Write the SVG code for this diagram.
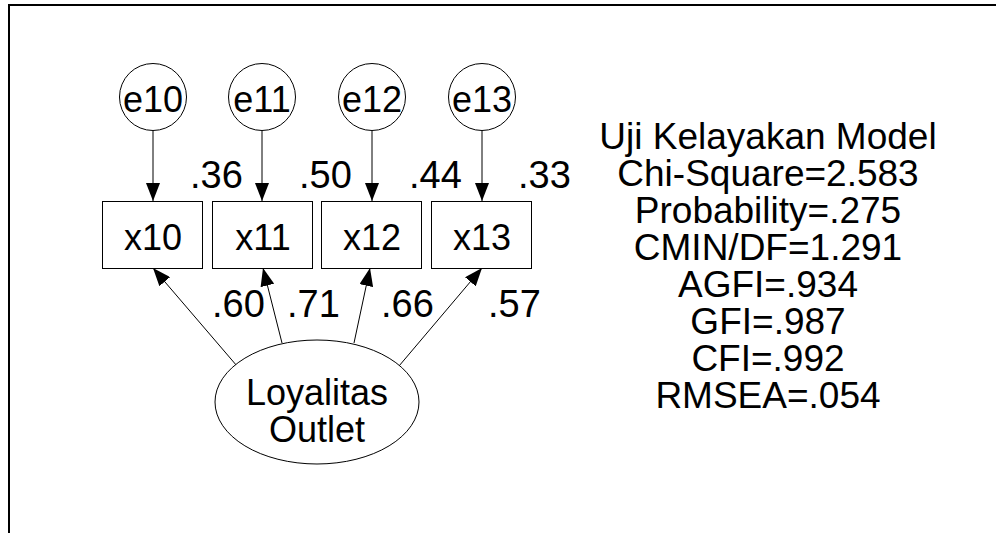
<svg xmlns="http://www.w3.org/2000/svg" width="996" height="533" viewBox="0 0 996 533">
<style>
.n{fill:#fff;stroke:#000;stroke-width:1}
.t{font-family:"Liberation Sans",Arial,sans-serif;font-size:36px;fill:#000;text-anchor:middle}
.l{font-family:"Liberation Sans",Arial,sans-serif;font-size:38px;fill:#000}
.r{font-family:"Liberation Sans",Arial,sans-serif;font-size:37px;fill:#000;text-anchor:middle}
.c{stroke:#000;stroke-width:1;fill:none;marker-end:url(#ah)}
</style>
<defs>
<marker id="ah" markerUnits="userSpaceOnUse" markerWidth="18" markerHeight="14" refX="18" refY="7" orient="auto" viewBox="0 0 18 14">
<path d="M0,0 L18,7 L0,14 Z" fill="#000"/>
</marker>
</defs>
<rect width="996" height="533" fill="#fff"/>
<rect x="9" y="5" width="1000" height="540" fill="none" stroke="#000" stroke-width="2"/>
<g id="connectors">
<line class="c" x1="153" y1="131" x2="153" y2="201"/>
<line class="c" x1="262" y1="131" x2="262" y2="201"/>
<line class="c" x1="372" y1="131" x2="372" y2="201"/>
<line class="c" x1="482" y1="131" x2="482" y2="201"/>
<line class="c" x1="237" y1="366" x2="153" y2="268"/>
<line class="c" x1="282" y1="343" x2="263" y2="268"/>
<line class="c" x1="354" y1="343" x2="370" y2="268"/>
<line class="c" x1="399" y1="366" x2="482" y2="268"/>
</g>
<g id="e10"><circle class="n" cx="153" cy="97" r="33.5"/><text class="t" x="153" y="112">e10</text></g>
<g id="e11"><circle class="n" cx="262" cy="97" r="33.5"/><text class="t" x="262" y="112">e11</text></g>
<g id="e12"><circle class="n" cx="372" cy="97" r="33.5"/><text class="t" x="372" y="112">e12</text></g>
<g id="e13"><circle class="n" cx="482" cy="97" r="33.5"/><text class="t" x="482" y="112">e13</text></g>
<g id="x10"><rect class="n" x="102.5" y="201.5" width="100" height="67"/><text class="t" x="153" y="250">x10</text></g>
<g id="x11"><rect class="n" x="212.5" y="201.5" width="100" height="67"/><text class="t" x="263" y="250">x11</text></g>
<g id="x12"><rect class="n" x="321.5" y="201.5" width="100" height="67"/><text class="t" x="372" y="250">x12</text></g>
<g id="x13"><rect class="n" x="431.5" y="201.5" width="100" height="67"/><text class="t" x="482" y="250">x13</text></g>
<g id="loyalitas"><ellipse class="n" cx="317" cy="402" rx="102" ry="62"/><text class="t" x="317" y="405">Loyalitas</text><text class="t" x="317" y="442">Outlet</text></g>
<g id="labels">
<text class="l" x="190" y="188">.36</text>
<text class="l" x="299" y="188">.50</text>
<text class="l" x="409" y="188">.44</text>
<text class="l" x="518" y="188">.33</text>
<text class="l" x="212" y="317">.60</text>
<text class="l" x="287" y="317">.71</text>
<text class="l" x="381" y="317">.66</text>
<text class="l" x="488" y="317">.57</text>
</g>
<g id="fit">
<text class="r" x="768" y="149">Uji Kelayakan Model</text>
<text class="r" x="768" y="186">Chi-Square=2.583</text>
<text class="r" x="768" y="223">Probability=.275</text>
<text class="r" x="768" y="260">CMIN/DF=1.291</text>
<text class="r" x="768" y="297">AGFI=.934</text>
<text class="r" x="768" y="334">GFI=.987</text>
<text class="r" x="768" y="371">CFI=.992</text>
<text class="r" x="768" y="408">RMSEA=.054</text>
</g>
</svg>
